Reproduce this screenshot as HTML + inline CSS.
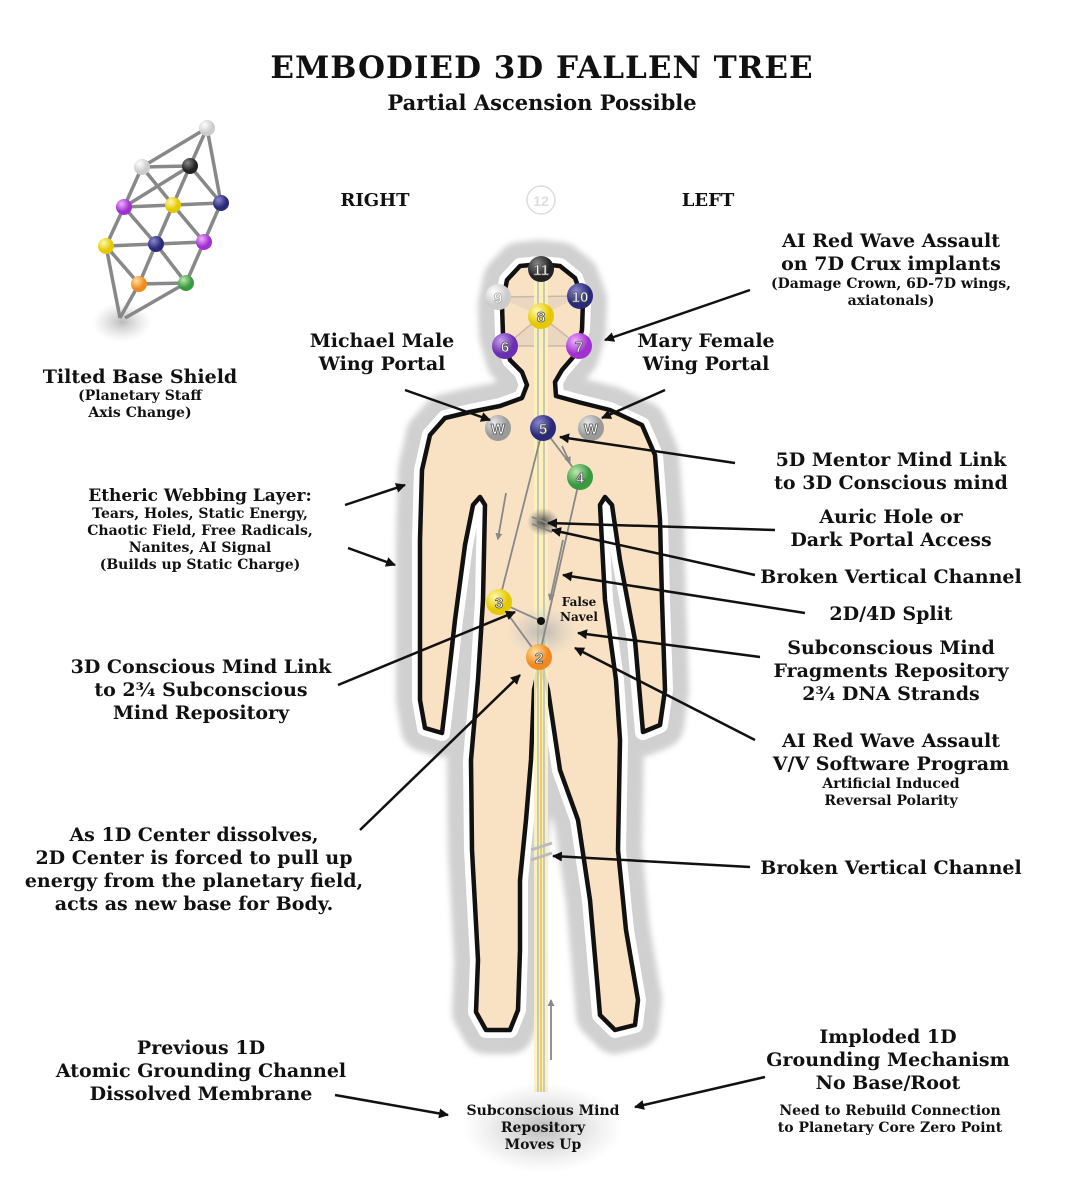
<!DOCTYPE html>
<html><head><meta charset="utf-8"><style>
html,body{margin:0;padding:0;background:#fff}
svg{display:block}
text{font-family:"DejaVu Serif","Liberation Serif",serif;font-weight:bold;fill:#111}
.n{font-family:"Liberation Sans",sans-serif;font-weight:bold;fill:#fff;stroke:#555;stroke-width:0.8;font-size:15px}
</style></head><body>
<svg width="1084" height="1200" viewBox="0 0 1084 1200" xmlns="http://www.w3.org/2000/svg">
<defs>
<filter id="bl" x="-20%" y="-20%" width="140%" height="140%"><feGaussianBlur stdDeviation="3"/></filter>
<marker id="ar" markerWidth="10" markerHeight="10" refX="9" refY="5" orient="auto" markerUnits="userSpaceOnUse"><path d="M0,0 L10,5 L0,10 z" fill="#111"/></marker>
<marker id="ag" markerWidth="7" markerHeight="7" refX="6" refY="3.5" orient="auto" markerUnits="userSpaceOnUse"><path d="M0,0 L7,3.5 L0,7 z" fill="#888"/></marker>
<radialGradient id="gy" cx="35%" cy="30%"><stop offset="0" stop-color="#fff8b0"/><stop offset="1" stop-color="#e6c800"/></radialGradient>
<radialGradient id="gd" cx="35%" cy="30%"><stop offset="0" stop-color="#888"/><stop offset="1" stop-color="#222"/></radialGradient>
<radialGradient id="gl" cx="35%" cy="30%"><stop offset="0" stop-color="#fff"/><stop offset="1" stop-color="#ccc"/></radialGradient>
<radialGradient id="gn" cx="35%" cy="30%"><stop offset="0" stop-color="#8a88d0"/><stop offset="1" stop-color="#2a2a78"/></radialGradient>
<radialGradient id="gp" cx="35%" cy="30%"><stop offset="0" stop-color="#c9a0f0"/><stop offset="1" stop-color="#6a2fb0"/></radialGradient>
<radialGradient id="gv" cx="35%" cy="30%"><stop offset="0" stop-color="#f0b0ff"/><stop offset="1" stop-color="#a030d0"/></radialGradient>
<radialGradient id="gg" cx="35%" cy="30%"><stop offset="0" stop-color="#bfe8b0"/><stop offset="1" stop-color="#3a9a40"/></radialGradient>
<radialGradient id="gw" cx="35%" cy="30%"><stop offset="0" stop-color="#e8e8e8"/><stop offset="1" stop-color="#9a9a9a"/></radialGradient>
<radialGradient id="go" cx="35%" cy="30%"><stop offset="0" stop-color="#ffe0a0"/><stop offset="1" stop-color="#f08a20"/></radialGradient>
<radialGradient id="fz"><stop offset="0" stop-color="#aaa" stop-opacity=".8"/><stop offset="1" stop-color="#ccc" stop-opacity="0"/></radialGradient>
<radialGradient id="dk"><stop offset="0" stop-color="#333" stop-opacity=".9"/><stop offset="1" stop-color="#666" stop-opacity="0"/></radialGradient>
<path id="bp" d="M540,264 L520,266 L507,280 L502,305 L503,335 L510,360 L522,372 L527,385 L522,398 L500,406 L470,412 L445,418 L430,435 L422,470 L420,540 L420,620 L420,700 L425,728 L442,733 L446,700 L455,620 L465,545 L473,505 L480,497 L485,505 L483,600 L478,680 L471,760 L472,850 L478,960 L476,1012 L486,1030 L510,1030 L518,1010 L520,950 L520,880 L526,820 L531,760 L534,690 L540,662 L548,690 L560,770 L578,820 L590,900 L597,980 L600,1015 L615,1030 L635,1025 L638,1000 L626,930 L618,850 L620,740 L616,680 L605,600 L600,505 L605,497 L612,505 L620,560 L635,640 L643,732 L660,725 L665,690 L662,600 L660,520 L655,455 L642,425 L610,410 L578,402 L556,396 L555,382 L562,370 L575,355 L582,330 L583,300 L575,278 L560,266 Z"/>
</defs>

<text x="542" y="78" text-anchor="middle" font-size="31" letter-spacing="1">EMBODIED 3D FALLEN TREE</text>
<text x="542" y="110" text-anchor="middle" font-size="21">Partial Ascension Possible</text>
<text x="375" y="206" text-anchor="middle" font-size="18">RIGHT</text>
<text x="708" y="206" text-anchor="middle" font-size="18">LEFT</text>
<circle cx="541" cy="200" r="14" fill="#fff" stroke="#ddd" stroke-width="1.5"/>
<text x="541" y="206" text-anchor="middle" font-size="14" style="fill:#ddd;font-family:'Liberation Sans',sans-serif">12</text>

<!-- tree -->
<ellipse cx="122" cy="322" rx="30" ry="20" fill="url(#fz)"/>
<g stroke="#888" stroke-width="3.5">
<line x1="207" y1="128" x2="190" y2="166"/><line x1="207" y1="128" x2="142" y2="167"/><line x1="207" y1="128" x2="221" y2="203"/>
<line x1="142" y1="167" x2="190" y2="166"/><line x1="142" y1="167" x2="124" y2="207"/><line x1="142" y1="167" x2="173" y2="205"/>
<line x1="190" y1="166" x2="173" y2="205"/><line x1="190" y1="166" x2="221" y2="203"/><line x1="190" y1="166" x2="124" y2="207"/>
<line x1="124" y1="207" x2="173" y2="205"/><line x1="173" y1="205" x2="221" y2="203"/><line x1="124" y1="207" x2="106" y2="246"/>
<line x1="124" y1="207" x2="156" y2="244"/><line x1="173" y1="205" x2="156" y2="244"/><line x1="173" y1="205" x2="204" y2="242"/>
<line x1="221" y1="203" x2="204" y2="242"/><line x1="106" y1="246" x2="156" y2="244"/><line x1="156" y1="244" x2="204" y2="242"/>
<line x1="106" y1="246" x2="139" y2="284"/><line x1="156" y1="244" x2="139" y2="284"/><line x1="156" y1="244" x2="186" y2="283"/>
<line x1="204" y1="242" x2="186" y2="283"/><line x1="139" y1="284" x2="186" y2="283"/><line x1="106" y1="246" x2="120" y2="318"/>
<line x1="139" y1="284" x2="120" y2="318"/><line x1="186" y1="283" x2="125" y2="318"/>
</g>
<circle cx="207" cy="128" r="8" fill="url(#gl)"/><circle cx="190" cy="166" r="8" fill="url(#gd)"/><circle cx="142" cy="167" r="8" fill="url(#gl)"/>
<circle cx="124" cy="207" r="8" fill="url(#gv)"/><circle cx="173" cy="205" r="8" fill="url(#gy)"/><circle cx="221" cy="203" r="8" fill="url(#gn)"/>
<circle cx="106" cy="246" r="8" fill="url(#gy)"/><circle cx="156" cy="244" r="8" fill="url(#gn)"/><circle cx="204" cy="242" r="8" fill="url(#gv)"/>
<circle cx="139" cy="284" r="8" fill="url(#go)"/><circle cx="186" cy="283" r="8" fill="url(#gg)"/>
<text x="140" y="383" text-anchor="middle" font-size="19">Tilted Base Shield</text>
<text x="140" y="400" text-anchor="middle" font-size="14">(Planetary Staff</text>
<text x="140" y="417" text-anchor="middle" font-size="14">Axis Change)</text>

<!-- body -->
<use href="#bp" fill="none" stroke="#d0d0d0" stroke-width="48" stroke-linejoin="round" filter="url(#bl)"/>
<use href="#bp" fill="none" stroke="#fff" stroke-width="16" stroke-linejoin="round"/>
<use href="#bp" fill="#f9e2c4" stroke="#111" stroke-width="4.5" stroke-linejoin="round"/>

<!-- head triangles -->
<polygon points="498,297 580,296 541,316" fill="#e5d2bd" opacity=".7"/>
<polygon points="541,316 505,346 579,346" fill="#e5d2bd" opacity=".7"/>
<g stroke="#c9b9a8" stroke-width="1.5"><line x1="498" y1="297" x2="580" y2="296"/><line x1="505" y1="346" x2="579" y2="346"/><line x1="541" y1="316" x2="505" y2="346"/><line x1="541" y1="316" x2="579" y2="346"/></g>

<!-- channel -->
<rect x="534" y="272" width="14" height="820" fill="#fbf3b8" opacity=".9"/>
<line x1="538" y1="272" x2="538" y2="1092" stroke="#bbb" stroke-width="1.5"/>
<line x1="544" y1="272" x2="544" y2="1092" stroke="#bbb" stroke-width="1.5"/>
<line x1="541" y1="660" x2="541" y2="1092" stroke="#e8cf60" stroke-width="2"/>

<ellipse cx="543" cy="522" rx="16" ry="14" fill="url(#dk)"/>
<ellipse cx="542" cy="632" rx="36" ry="26" fill="url(#fz)"/>
<ellipse cx="543" cy="1128" rx="80" ry="45" fill="url(#fz)"/>
<g stroke="#888" stroke-width="2"><line x1="532" y1="517" x2="552" y2="525"/><line x1="532" y1="524" x2="552" y2="532"/>
<line x1="531" y1="850" x2="552" y2="843" stroke="#bbb" stroke-width="3"/><line x1="531" y1="860" x2="552" y2="853" stroke="#bbb" stroke-width="3"/></g>

<!-- node lines -->
<g stroke="#888" stroke-width="1.8" fill="none">
<line x1="543" y1="428" x2="499" y2="602"/><line x1="543" y1="428" x2="580" y2="477"/><line x1="580" y1="477" x2="539" y2="657"/>
<line x1="499" y1="602" x2="539" y2="657"/><line x1="499" y1="602" x2="541" y2="621"/>
<line x1="506" y1="493" x2="506" y2="540" marker-end="url(#ag)" transform="rotate(10 506 493)"/>
<line x1="562" y1="446" x2="570" y2="463" marker-end="url(#ag)"/>
<line x1="563" y1="540" x2="550" y2="600" marker-end="url(#ag)"/>
<line x1="551" y1="1060" x2="551" y2="1000" marker-end="url(#ag)"/>
</g>
<circle cx="541" cy="621" r="4" fill="#111"/>
<text x="579" y="606" text-anchor="middle" font-size="12">False</text>
<text x="579" y="621" text-anchor="middle" font-size="12">Navel</text>

<!-- nodes -->
<g>
<circle cx="541" cy="269" r="13" fill="url(#gd)"/><text class="n" x="541" y="275" text-anchor="middle">11</text>
<circle cx="498" cy="297" r="13" fill="url(#gl)"/><text class="n" x="498" y="303" text-anchor="middle" style="stroke:#aaa">9</text>
<circle cx="580" cy="296" r="13" fill="url(#gn)"/><text class="n" x="580" y="302" text-anchor="middle">10</text>
<circle cx="541" cy="316" r="13" fill="url(#gy)"/><text class="n" x="541" y="322" text-anchor="middle">8</text>
<circle cx="505" cy="346" r="13" fill="url(#gp)"/><text class="n" x="505" y="352" text-anchor="middle">6</text>
<circle cx="579" cy="346" r="13" fill="url(#gv)"/><text class="n" x="579" y="352" text-anchor="middle">7</text>
<circle cx="498" cy="428" r="13" fill="url(#gw)"/><text class="n" x="498" y="434" text-anchor="middle">W</text>
<circle cx="543" cy="428" r="13" fill="url(#gn)"/><text class="n" x="543" y="434" text-anchor="middle">5</text>
<circle cx="591" cy="428" r="13" fill="url(#gw)"/><text class="n" x="591" y="434" text-anchor="middle">W</text>
<circle cx="580" cy="477" r="13" fill="url(#gg)"/><text class="n" x="580" y="483" text-anchor="middle">4</text>
<circle cx="499" cy="602" r="13" fill="url(#gy)"/><text class="n" x="499" y="608" text-anchor="middle">3</text>
<circle cx="539" cy="657" r="13" fill="url(#go)"/><text class="n" x="539" y="663" text-anchor="middle">2</text>
</g>

<!-- arrows -->
<g stroke="#111" stroke-width="2.5" marker-end="url(#ar)">
<line x1="750" y1="290" x2="605" y2="340"/>
<line x1="405" y1="390" x2="490" y2="420"/>
<line x1="665" y1="390" x2="602" y2="418"/>
<line x1="735" y1="463" x2="560" y2="437"/>
<line x1="345" y1="505" x2="405" y2="485"/>
<line x1="348" y1="548" x2="395" y2="565"/>
<line x1="775" y1="530" x2="548" y2="523"/>
<line x1="755" y1="575" x2="552" y2="530"/>
<line x1="805" y1="613" x2="563" y2="575"/>
<line x1="760" y1="657" x2="578" y2="633"/>
<line x1="755" y1="740" x2="575" y2="648"/>
<line x1="338" y1="685" x2="515" y2="612"/>
<line x1="360" y1="830" x2="520" y2="675"/>
<line x1="750" y1="867" x2="553" y2="856"/>
<line x1="335" y1="1095" x2="448" y2="1115"/>
<line x1="765" y1="1077" x2="635" y2="1107"/>
</g>

<!-- labels -->
<g text-anchor="middle">
<text x="891" y="247" font-size="19">AI Red Wave Assault</text>
<text x="891" y="270" font-size="19">on 7D Crux implants</text>
<text x="891" y="288" font-size="14">(Damage Crown, 6D-7D wings,</text>
<text x="891" y="305" font-size="14">axiatonals)</text>
<text x="382" y="347" font-size="19">Michael Male</text>
<text x="382" y="370" font-size="19">Wing Portal</text>
<text x="706" y="347" font-size="19">Mary Female</text>
<text x="706" y="370" font-size="19">Wing Portal</text>
<text x="891" y="466" font-size="19">5D Mentor Mind Link</text>
<text x="891" y="489" font-size="19">to 3D Conscious mind</text>
<text x="200" y="501" font-size="17">Etheric Webbing Layer:</text>
<text x="200" y="518" font-size="14">Tears, Holes, Static Energy,</text>
<text x="200" y="535" font-size="14">Chaotic Field, Free Radicals,</text>
<text x="200" y="552" font-size="14">Nanites, AI Signal</text>
<text x="200" y="569" font-size="14">(Builds up Static Charge)</text>
<text x="891" y="523" font-size="19">Auric Hole or</text>
<text x="891" y="546" font-size="19">Dark Portal Access</text>
<text x="891" y="583" font-size="19">Broken Vertical Channel</text>
<text x="891" y="620" font-size="19">2D/4D Split</text>
<text x="891" y="654" font-size="19">Subconscious Mind</text>
<text x="891" y="677" font-size="19">Fragments Repository</text>
<text x="891" y="700" font-size="19">2¾ DNA Strands</text>
<text x="201" y="673" font-size="19">3D Conscious Mind Link</text>
<text x="201" y="696" font-size="19">to 2¾ Subconscious</text>
<text x="201" y="719" font-size="19">Mind Repository</text>
<text x="891" y="747" font-size="19">AI Red Wave Assault</text>
<text x="891" y="770" font-size="19">V/V Software Program</text>
<text x="891" y="788" font-size="14">Artificial Induced</text>
<text x="891" y="805" font-size="14">Reversal Polarity</text>
<text x="194" y="841" font-size="19">As 1D Center dissolves,</text>
<text x="194" y="864" font-size="19">2D Center is forced to pull up</text>
<text x="194" y="887" font-size="19">energy from the planetary field,</text>
<text x="194" y="910" font-size="19">acts as new base for Body.</text>
<text x="891" y="874" font-size="19">Broken Vertical Channel</text>
<text x="201" y="1054" font-size="19">Previous 1D</text>
<text x="201" y="1077" font-size="19">Atomic Grounding Channel</text>
<text x="201" y="1100" font-size="19">Dissolved Membrane</text>
<text x="888" y="1043" font-size="19">Imploded 1D</text>
<text x="888" y="1066" font-size="19">Grounding Mechanism</text>
<text x="888" y="1089" font-size="19">No Base/Root</text>
<text x="890" y="1115" font-size="14">Need to Rebuild Connection</text>
<text x="890" y="1132" font-size="14">to Planetary Core Zero Point</text>
<text x="543" y="1115" font-size="14">Subconscious Mind</text>
<text x="543" y="1132" font-size="14">Repository</text>
<text x="543" y="1149" font-size="14">Moves Up</text>
</g>
</svg>
</body></html>
